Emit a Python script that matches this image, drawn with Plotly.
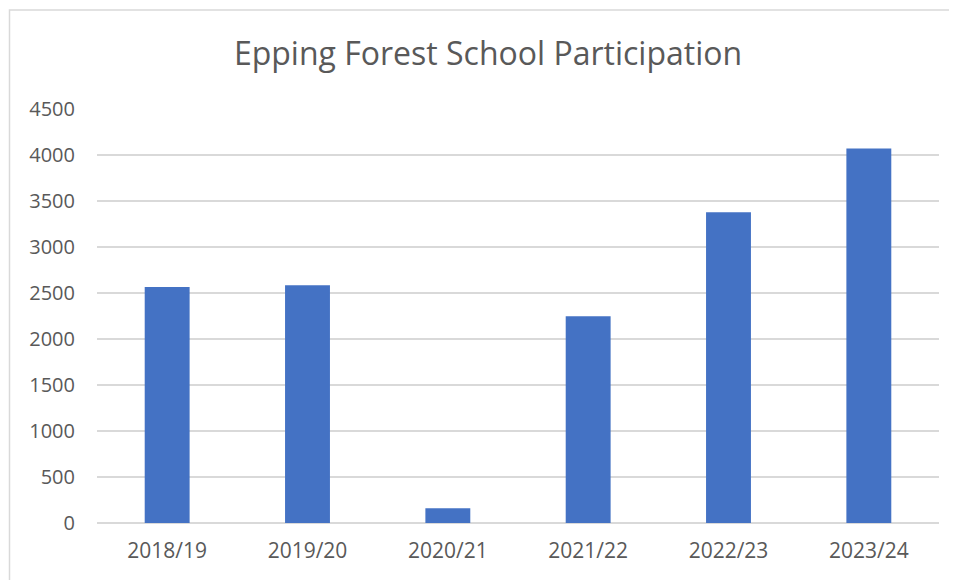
import plotly.graph_objects as go

categories = ["2018/19", "2019/20", "2020/21", "2021/22", "2022/23", "2023/24"]
participation = [2565, 2583, 160, 2246, 3377, 4072]
y_ticks = [0, 500, 1000, 1500, 2000, 2500, 3000, 3500, 4000, 4500]

# page coordinates (the html body adds an 8px offset)
OFF = 8
PLOT_L, PLOT_R, PLOT_T, PLOT_B = 97, 939, 109, 523
W, H = 957 - OFF, 580 - OFF
L = PLOT_L - OFF
T = PLOT_T - OFF
R = (OFF + W) - PLOT_R
B = (OFF + H) - PLOT_B
pw, ph = PLOT_R - PLOT_L, PLOT_B - PLOT_T


def px_x(px):
    return (px - PLOT_L) / pw


def px_y(py):
    return (PLOT_B - py) / ph


fig = go.Figure(
    go.Bar(
        x=categories,
        y=participation,
        marker=dict(color="#4472C4", line=dict(width=0)),
        width=0.32,
    )
)

fig.update_layout(
    width=W,
    height=H,
    margin=dict(l=L, r=R, t=T, b=B),
    paper_bgcolor="white",
    plot_bgcolor="white",
    showlegend=False,
    title=dict(
        text="Epping Forest School Participation",
        x=(488 - OFF) / W,
        xanchor="center",
        xref="container",
        y=1 - (54 - OFF) / H,
        yanchor="middle",
        yref="container",
        font=dict(family="Open Sans", size=32, color="#595959"),
    ),
    font=dict(family="Open Sans", size=20, color="#595959"),
    shapes=[
        dict(
            type="rect",
            xref="paper",
            yref="paper",
            x0=px_x(9.5),
            x1=px_x(975),
            y0=px_y(600),
            y1=px_y(10),
            line=dict(color="#d9d9d9", width=1.5),
            fillcolor="rgba(0,0,0,0)",
            layer="below",
        )
    ],
)

fig.update_xaxes(
    showgrid=False,
    showline=False,
    ticks="",
    tickfont=dict(family="Open Sans", size=21, color="#595959"),
    ticklabelstandoff=13,
)
fig.update_yaxes(
    range=[0, 4500],
    tickvals=y_ticks,
    ticktext=[str(v) for v in y_ticks],
    showgrid=True,
    gridcolor="#d9d9d9",
    gridwidth=1.5,
    zeroline=True,
    zerolinecolor="#d9d9d9",
    zerolinewidth=1.5,
    showline=False,
    ticks="",
    ticklabelstandoff=21,
    tickfont=dict(family="Open Sans", size=20, color="#595959"),
)

fig.write_html("out.html")
